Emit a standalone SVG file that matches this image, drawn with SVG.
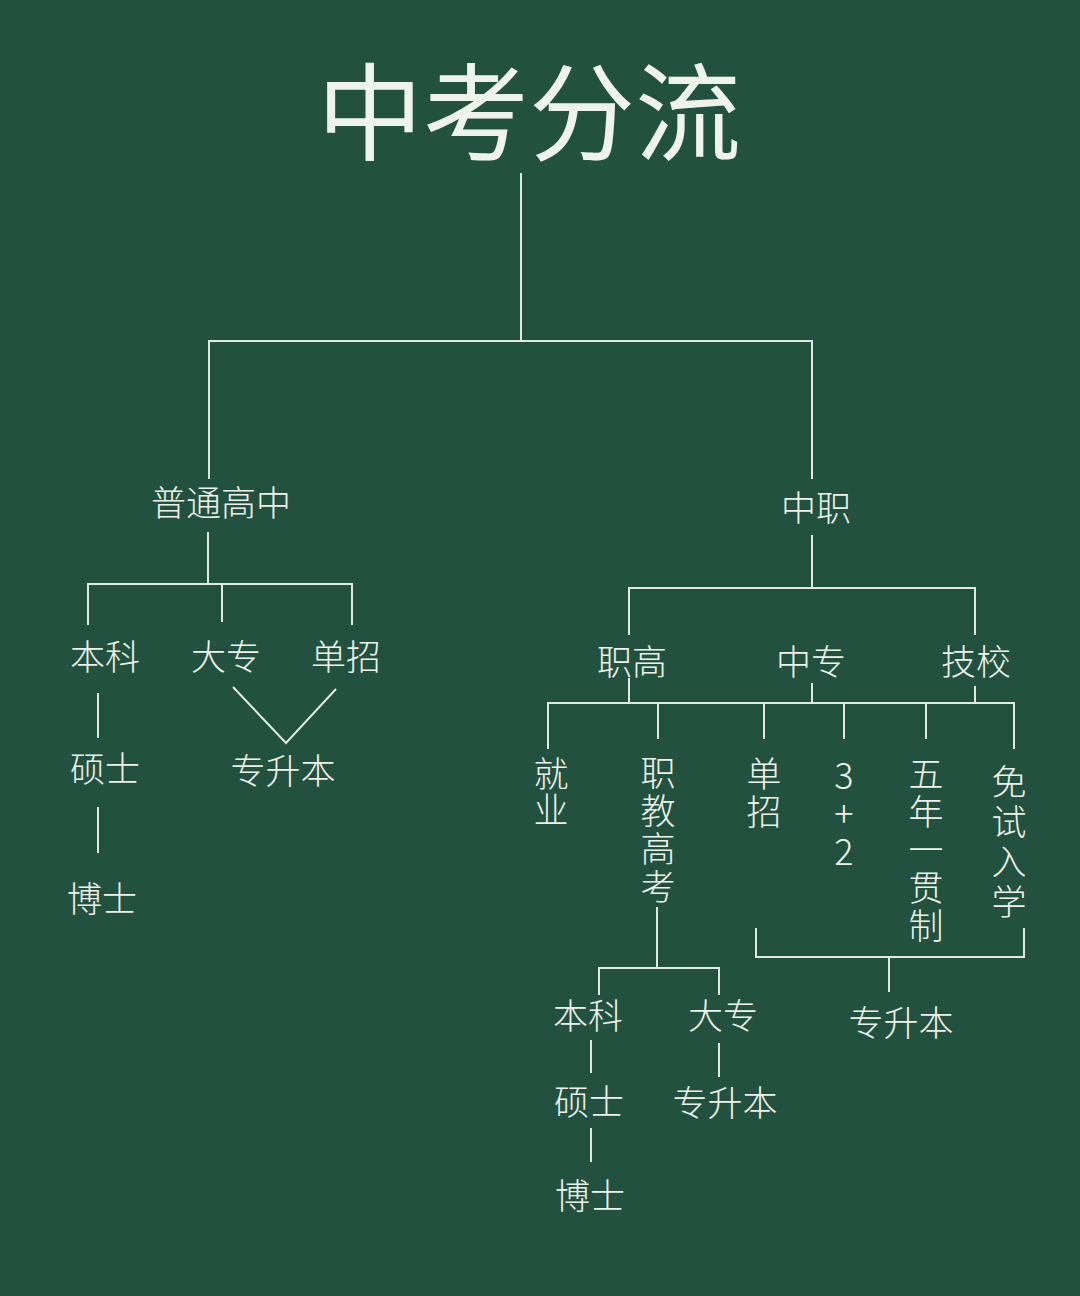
<svg xmlns="http://www.w3.org/2000/svg" width="1080" height="1296" viewBox="0 0 1080 1296">
<style>
.t{font-family:"Noto Sans CJK SC","Noto Sans",sans-serif;fill:#eef3ec;text-anchor:middle;font-weight:300;font-size:35px}
.ttl{font-size:106px;font-weight:400}
.v{text-anchor:start;writing-mode:vertical-rl;text-orientation:upright}
.num{font-size:36px}
.c line,.c polyline{stroke:#e2eae2;stroke-width:2;fill:none}
</style>
<rect width="1080" height="1296" fill="#23513f"/>
<g class="c" id="connectors">
<line x1="521" y1="173" x2="521" y2="341"/>
<polyline points="209,479 209,341 812,341 812,479"/>
<line x1="208" y1="532" x2="208" y2="584"/>
<polyline points="88,625 88,584 352,584 352,625"/>
<line x1="222" y1="584" x2="222" y2="622"/>
<line x1="98" y1="693" x2="98" y2="738"/>
<line x1="98" y1="807" x2="98" y2="853"/>
<polyline points="233,687 286,743 336,689"/>
<line x1="812" y1="535" x2="812" y2="588"/>
<polyline points="629,635 629,588 975,588 975,635"/>
<line x1="629" y1="678" x2="629" y2="703"/>
<line x1="812" y1="683" x2="812" y2="703"/>
<line x1="975" y1="686" x2="975" y2="703"/>
<polyline points="548,749 548,703 1014,703 1014,749"/>
<line x1="658" y1="703" x2="658" y2="739"/>
<line x1="764" y1="703" x2="764" y2="739"/>
<line x1="844" y1="703" x2="844" y2="739"/>
<line x1="926" y1="703" x2="926" y2="739"/>
<line x1="657" y1="907" x2="657" y2="968"/>
<polyline points="599,995 599,968 719,968 719,995"/>
<polyline points="756,928 756,957 1024,957 1024,928"/>
<line x1="889" y1="957" x2="889" y2="992"/>
<line x1="591" y1="1040" x2="591" y2="1073"/>
<line x1="719" y1="1043" x2="719" y2="1077"/>
<line x1="591" y1="1128" x2="591" y2="1162"/>
</g>
<g id="title"><text class="t ttl" x="529" y="152">中考分流</text></g>
<g id="n-putonggaozhong"><text class="t" x="221" y="516">普通高中</text></g>
<g id="n-zhongzhi"><text class="t" x="816" y="521">中职</text></g>
<g id="n-benke1"><text class="t" x="105" y="670">本科</text></g>
<g id="n-dazhuan1"><text class="t" x="226" y="670">大专</text></g>
<g id="n-danzhao1"><text class="t" x="346" y="670">单招</text></g>
<g id="n-shuoshi1"><text class="t" x="105" y="782">硕士</text></g>
<g id="n-boshi1"><text class="t" x="102" y="912">博士</text></g>
<g id="n-zhuanshengben1"><text class="t" x="283" y="784">专升本</text></g>
<g id="n-zhigao"><text class="t" x="632" y="675">职高</text></g>
<g id="n-zhongzhuan"><text class="t" x="811" y="675">中专</text></g>
<g id="n-jixiao"><text class="t" x="976" y="675">技校</text></g>
<g id="n-jiuye"><text class="t v" x="551" y="756" letter-spacing="1">就业</text></g>
<g id="n-zhijiaogaokao"><text class="t v" x="658" y="755" letter-spacing="3">职教高考</text></g>
<g id="n-danzhao2"><text class="t v" x="764" y="756" letter-spacing="3">单招</text></g>
<g id="n-3plus2"><text class="t v num" x="844" y="757" letter-spacing="2">3+2</text></g>
<g id="n-wunian"><text class="t v" x="926" y="756" letter-spacing="3">五年一贯制</text></g>
<g id="n-mianshi"><text class="t v" x="1009" y="764" letter-spacing="5">免试入学</text></g>
<g id="n-benke2"><text class="t" x="588" y="1029">本科</text></g>
<g id="n-dazhuan2"><text class="t" x="723" y="1029">大专</text></g>
<g id="n-shuoshi2"><text class="t" x="589" y="1115">硕士</text></g>
<g id="n-zhuanshengben2"><text class="t" x="725" y="1116">专升本</text></g>
<g id="n-boshi2"><text class="t" x="590" y="1209">博士</text></g>
<g id="n-zhuanshengben3"><text class="t" x="901" y="1036">专升本</text></g>
</svg>
